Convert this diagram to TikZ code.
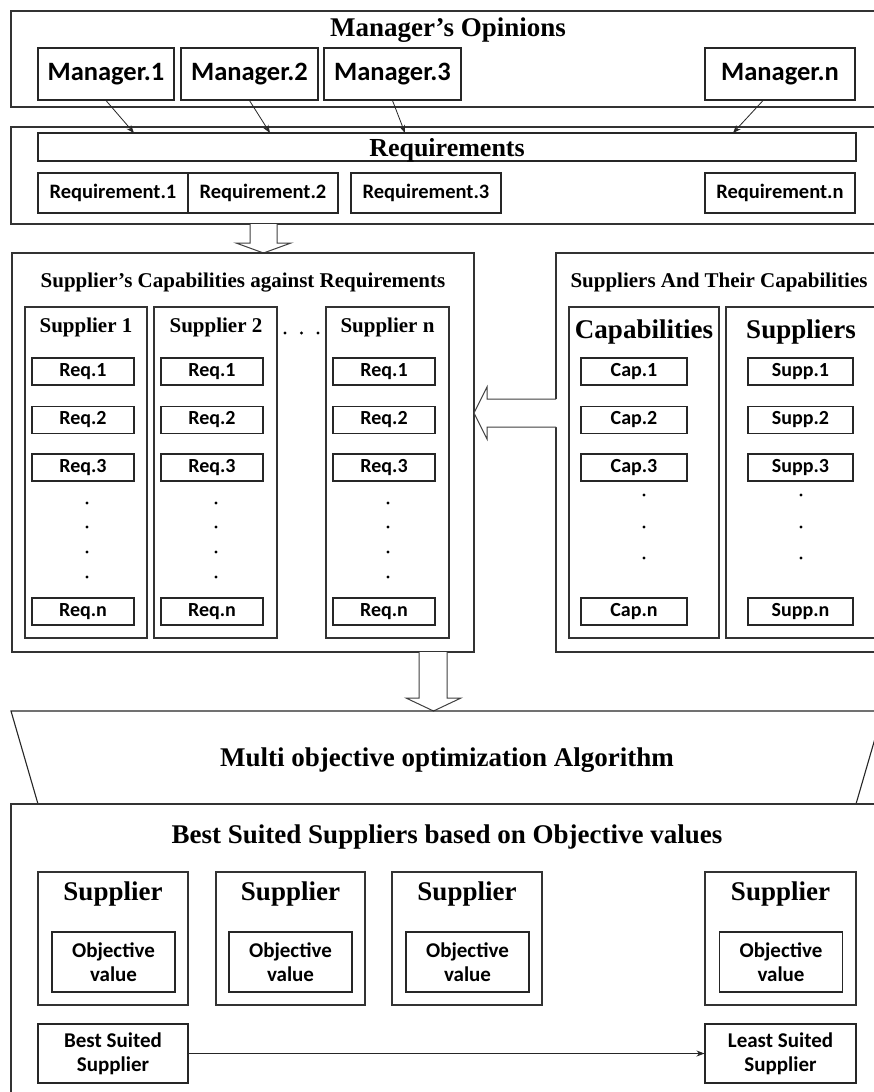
\documentclass[tikz,border=0pt]{standalone}
\usepackage{fontspec}
\setmainfont{Liberation Serif}
\newfontfamily\calib{Carlito}
\usetikzlibrary{arrows.meta,calc}
\tikzset{
  frame/.style={draw=black!80, line width=1.1pt, inner sep=0pt},
  bx/.style={draw=black!85, line width=1.1pt, inner sep=0pt, align=center,
    font=\calib\bfseries\fontsize{20}{24}\selectfont},
  mgrbox/.style={bx, font=\calib\bfseries\fontsize{26.5}{30}\selectfont},
  reqbox/.style={bx, font=\calib\bfseries\fontsize{20.5}{24}\selectfont},
  objbox/.style={bx, font=\calib\bfseries\fontsize{21}{24}\selectfont},
  ttl/.style={anchor=base, inner sep=0pt, font=\bfseries\fontsize{27}{30}\selectfont},
  sttl/.style={anchor=base, inner sep=0pt, font=\bfseries\fontsize{21}{24}\selectfont},
  arr/.style={draw=black!85, line width=0.8pt, -{Stealth[length=8pt,width=6pt]}},
  blk/.style={draw=black!75, line width=1pt, fill=white},
  dot/.style={fill=black},
}
\begin{document}
\begin{tikzpicture}[x=1pt,y=-1pt]
\useasboundingbox (0,0) rectangle (874,1092);
\clip (0,0) rectangle (874,1092);
\fill[white] (0,0) rectangle (874,1092);

% ---------- Manager's opinions ----------
\node[frame, minimum width=873, minimum height=96] (mgr) at (447.5,59) {};
\node[ttl] (mgrt) at (448,36) {Manager’s Opinions};
\node[mgrbox, minimum width=136, minimum height=52] (m1) at (106,74) {Manager.1};
\node[mgrbox, minimum width=137, minimum height=52] (m2) at (249.5,74) {Manager.2};
\node[mgrbox, minimum width=137, minimum height=52] (m3) at (392.5,74) {Manager.3};
\node[mgrbox, minimum width=150, minimum height=52] (mn) at (780,74) {Manager.n};

% ---------- Requirements ----------
\node[frame, minimum width=873, minimum height=97] (reqf) at (447.5,175.5) {};
\node[bx, minimum width=818, minimum height=28] (reqbar) at (447,147) {};
\node[ttl, font=\bfseries\fontsize{26}{30}\selectfont] (reqt) at (447,156) {Requirements};
\node[reqbox, minimum width=150, minimum height=40] (r1) at (113,193) {Requirement.1};
\node[reqbox, minimum width=150, minimum height=40] (r2) at (263,193) {Requirement.2};
\node[reqbox, minimum width=150, minimum height=40] (r3) at (426,193) {Requirement.3};
\node[reqbox, minimum width=150, minimum height=40] (rn) at (780,193) {Requirement.n};

\coordinate (e1) at (134,133);
\coordinate (e2) at (270,133);
\coordinate (e3) at (405,133);
\coordinate (e4) at (733,133);
\draw[arr] (m1.south) -- (e1);
\draw[arr] (m2.south) -- (e2);
\draw[arr] (m3.south) -- (e3);
\draw[arr] ([xshift=-17pt]mn.south) -- (e4);

% block arrow 1
\draw[blk] (250,224) -- (250,243) -- (236,243) -- (263.5,253) -- (291,243) -- (277,243) -- (277,224);

% ---------- Supplier's capabilities against requirements ----------
\node[frame, minimum width=462, minimum height=399] (scf) at (243,452.5) {};
\node[sttl] (scft) at (243,287) {Supplier’s Capabilities against Requirements};

\node[frame, minimum width=122, minimum height=331] (s1) at (86,472.5) {};
\node[frame, minimum width=123, minimum height=331] (s2) at (215.5,472.5) {};
\node[frame, minimum width=123, minimum height=331] (sn) at (387.5,472.5) {};
\node[sttl] (s1t) at (86,332) {Supplier 1};
\node[sttl] (s2t) at (216,332) {Supplier 2};
\node[sttl] (snt) at (387.5,332) {Supplier n};
\fill[dot] (285,333) circle[radius=1.7pt];
\fill[dot] (301.5,333) circle[radius=1.7pt];
\fill[dot] (318,333) circle[radius=1.7pt];

\foreach \c/\x in {a/83, b/212, c/384}{
  \node[bx, minimum width=102, minimum height=27] (q1\c) at (\x,371.5) {Req.1};
  \node[bx, minimum width=102, minimum height=27] (q2\c) at (\x,420) {Req.2};
  \node[bx, minimum width=102, minimum height=27] (q3\c) at (\x,467.5) {Req.3};
  \node[bx, minimum width=102, minimum height=27] (qn\c) at (\x,611.5) {Req.n};
}
\foreach \x in {87,216,388}{
  \foreach \y in {503,527,552,577}{
    \fill[dot] (\x,\y) circle[radius=1.7pt];
  }
}

% ---------- Suppliers and their capabilities ----------
\node[frame, minimum width=328, minimum height=399] (stc) at (720,452.5) {};
\node[sttl] (stct) at (719,287) {Suppliers And Their Capabilities};
\node[frame, minimum width=150, minimum height=331] (capc) at (644,472.5) {};
\node[frame, minimum width=158, minimum height=331] (supc) at (805,472.5) {};
\node[ttl] (capt) at (644,338) {Capabilities};
\node[ttl] (supt) at (801,338) {Suppliers};
\node[bx, minimum width=106, minimum height=27] (c1) at (634,371.5) {Cap.1};
\node[bx, minimum width=106, minimum height=27] (c2) at (634,420) {Cap.2};
\node[bx, minimum width=106, minimum height=27] (c3) at (634,467.5) {Cap.3};
\node[bx, minimum width=106, minimum height=27] (cn) at (634,611.5) {Cap.n};
\node[bx, minimum width=105, minimum height=27] (p1) at (800.5,371.5) {Supp.1};
\node[bx, minimum width=105, minimum height=27] (p2) at (800.5,420) {Supp.2};
\node[bx, minimum width=105, minimum height=27] (p3) at (800.5,467.5) {Supp.3};
\node[bx, minimum width=105, minimum height=27] (pn) at (800.5,611.5) {Supp.n};
\foreach \x in {644,801}{
  \foreach \y in {495,527,558}{
    \fill[dot] (\x,\y) circle[radius=1.7pt];
  }
}

% block arrow 2 (pointing left)
\fill[white] (557.5,399) -- (487,399) -- (487,387) -- (474,413) -- (487,439) -- (487,427) -- (557.5,427) -- cycle;
\draw[blk, fill=none] (556,399) -- (487,399) -- (487,387) -- (474,413) -- (487,439) -- (487,427) -- (556,427);

% block arrow 3 (down)
\draw[blk] (419,652) -- (419,698) -- (406,698) -- (433.5,711) -- (461,698) -- (447,698) -- (447,652);

% ---------- Algorithm ----------
\draw[draw=black!85, line width=1.1pt] (11,711) -- (883,711) -- (856,804) -- (38,804) -- cycle;
\node[ttl] (algo) at (447,766) {Multi objective optimization Algorithm};

% ---------- Best suited suppliers ----------
\node[frame, minimum width=873, minimum height=296] (bestf) at (447.5,952) {};
\node[ttl] (bestt) at (447,843) {Best Suited Suppliers based on Objective values};

\foreach \n/\x/\w/\ox in {1/113/150/113.5, 2/290.5/149/290.5, 3/467/150/467.5, 4/780.5/151/781}{
  \node[frame, minimum width=\w, minimum height=133] (b\n) at (\x,938.5) {};
  \node[ttl] (b\n t) at (\x,900) {Supplier};
  \node[objbox, minimum width=123, minimum height=60] (o\n) at (\ox,962) {Objective\\value};
}
\node[objbox, minimum width=150, minimum height=59] (bestsup) at (113,1053.5) {Best Suited\\Supplier};
\node[objbox, minimum width=151, minimum height=59] (leastsup) at (780.5,1053.5) {Least Suited\\Supplier};
\draw[arr] (bestsup.east) -- (leastsup.west);
\end{tikzpicture}
\end{document}
